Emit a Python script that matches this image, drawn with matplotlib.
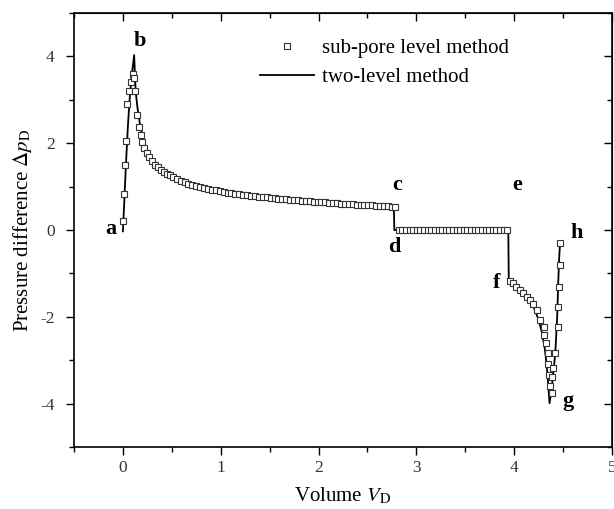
import matplotlib
matplotlib.use("Agg")
import matplotlib.pyplot as plt
from matplotlib.ticker import MultipleLocator

plt.rcParams['font.family'] = ['Liberation Serif', 'DejaVu Serif']
plt.rcParams['mathtext.fontset'] = 'stix'
plt.rcParams['axes.unicode_minus'] = False

# two-level method (solid line)
line_v = [0.0, 0.01, 0.03, 0.05, 0.07, 0.09, 0.115, 0.13, 0.15, 0.18, 0.22, 0.26, 0.30, 0.35,
          0.40, 0.50, 0.60, 0.70, 0.80, 0.90, 1.00, 1.20, 1.40, 1.60, 1.80, 2.00, 2.20, 2.40,
          2.60, 2.77, 2.775, 3.94, 3.945, 4.00, 4.05, 4.10, 4.15, 4.20, 4.25, 4.28, 4.31,
          4.33, 4.345, 4.355, 4.362, 4.38, 4.40, 4.42, 4.44, 4.45, 4.46, 4.47]
line_p = [-0.03, 0.45, 1.45, 2.35, 3.05, 3.55, 4.03, 3.20, 2.80, 2.35, 2.00, 1.78, 1.62, 1.48,
          1.38, 1.23, 1.13, 1.05, 0.99, 0.94, 0.90, 0.83, 0.77, 0.72, 0.68, 0.64, 0.61, 0.58,
          0.55, 0.53, 0.0, 0.0, -1.17, -1.22, -1.31, -1.43, -1.58, -1.78, -2.07, -2.33, -2.68,
          -3.05, -3.45, -3.78, -3.99, -3.70, -3.30, -2.85, -2.00, -1.25, -0.65, -0.27]

# sub-pore level method (open squares)
sub_v = [0.003, 0.013, 0.020, 0.031, 0.044, 0.061, 0.079, 0.099, 0.110, 0.123, 0.140, 0.167,
         0.180, 0.200, 0.220, 0.245, 0.270, 0.300, 0.330, 0.360, 0.390, 0.420, 0.450, 0.480,
         0.510, 0.550, 0.590, 0.630, 0.670, 0.710, 0.750, 0.790, 0.830, 0.870, 0.910, 0.950,
         0.990, 1.030, 1.070, 1.110, 1.150, 1.190, 1.230, 1.270, 1.310, 1.350, 1.390, 1.430,
         1.470, 1.510, 1.550, 1.590, 1.630, 1.670, 1.710, 1.750, 1.790, 1.830, 1.870, 1.910,
         1.950, 1.990, 2.030, 2.070, 2.110, 2.150, 2.190, 2.230, 2.270, 2.310, 2.350, 2.390,
         2.430, 2.470, 2.510, 2.550, 2.590, 2.630, 2.670, 2.710, 2.750, 2.780,
         2.820, 2.857, 2.894, 2.931, 2.968, 3.005, 3.042, 3.079, 3.116, 3.153, 3.190, 3.227,
         3.264, 3.301, 3.338, 3.375, 3.412, 3.449, 3.486, 3.523, 3.560, 3.597, 3.634, 3.671,
         3.708, 3.745, 3.782, 3.819, 3.856, 3.893, 3.930,
         3.956, 3.990, 4.020, 4.060, 4.090, 4.130, 4.160, 4.190, 4.230, 4.260, 4.300, 4.310,
         4.330, 4.345, 4.350, 4.360, 4.370,
         4.385, 4.390, 4.400, 4.420, 4.445, 4.452, 4.458, 4.464, 4.470]
sub_p = [0.21, 0.83, 1.50, 2.04, 2.91, 3.20, 3.41, 3.60, 3.50, 3.20, 2.64, 2.37,
         2.18, 2.02, 1.90, 1.78, 1.68, 1.58, 1.50, 1.44, 1.39, 1.34, 1.30, 1.26,
         1.22, 1.18, 1.14, 1.10, 1.07, 1.04, 1.01, 0.99, 0.97, 0.95, 0.93, 0.91,
         0.89, 0.875, 0.86, 0.85, 0.835, 0.825, 0.815, 0.80, 0.79, 0.78, 0.77, 0.76,
         0.75, 0.74, 0.735, 0.725, 0.715, 0.71, 0.70, 0.69, 0.685, 0.675, 0.67, 0.66,
         0.655, 0.645, 0.64, 0.635, 0.625, 0.62, 0.615, 0.605, 0.60, 0.595, 0.59, 0.585,
         0.58, 0.575, 0.57, 0.565, 0.56, 0.555, 0.55, 0.545, 0.54, 0.53,
         0.0, 0.0, 0.0, 0.0, 0.0, 0.0, 0.0, 0.0, 0.0, 0.0, 0.0, 0.0,
         0.0, 0.0, 0.0, 0.0, 0.0, 0.0, 0.0, 0.0, 0.0, 0.0, 0.0, 0.0,
         0.0, 0.0, 0.0, 0.0, 0.0, 0.0, 0.0,
         -1.17, -1.23, -1.31, -1.38, -1.46, -1.54, -1.61, -1.71, -1.84, -2.07, -2.24, -2.42,
         -2.61, -2.84, -3.08, -3.35, -3.60,
         -3.75, -3.38, -3.19, -2.84, -2.24, -1.77, -1.31, -0.81, -0.30]

point_labels = ['a', 'b', 'c', 'd', 'e', 'f', 'g', 'h']
label_v = [-0.12, 0.17, 2.80, 2.77, 4.03, 3.82, 4.55, 4.64]
label_p = [0.02, 4.35, 1.03, -0.39, 1.03, -1.22, -3.93, -0.08]

fig = plt.figure(figsize=(6.14, 5.09), dpi=100)
ax = fig.add_axes([0.1205, 0.1218, 0.8762, 0.8527])

ax.plot(sub_v, sub_p, linestyle='none', marker='s', markersize=4.2,
        markerfacecolor='white', markeredgecolor='#333333', markeredgewidth=0.8,
        label='sub-pore level method', zorder=3)
ax.plot(line_v, line_p, color='black', linewidth=1.3, label='two-level method', zorder=2)

for t, v, p in zip(point_labels, label_v, label_p):
    ax.text(v, p, t, fontsize=16, fontweight='bold', ha='center', va='center')

ax.set_xlim(-0.5, 5)
ax.set_ylim(-5, 5)
ax.xaxis.set_major_locator(MultipleLocator(1))
ax.xaxis.set_minor_locator(MultipleLocator(0.5))
ax.yaxis.set_major_locator(MultipleLocator(2))
ax.yaxis.set_minor_locator(MultipleLocator(1))
ax.tick_params(which='major', direction='out', length=6, width=1.0, labelsize=12.5,
               labelcolor='#333333', top=False, right=False)
ax.tick_params(axis='y', which='major', pad=8)
ax.tick_params(which='minor', direction='out', length=3.5, width=1.0, top=False, right=False)
for s in ax.spines.values():
    s.set_linewidth(1.2)

secx = ax.secondary_xaxis('top')
secx.xaxis.set_major_locator(MultipleLocator(1))
secx.xaxis.set_minor_locator(MultipleLocator(0.5))
secx.tick_params(which='major', direction='in', length=6, width=1.0, labeltop=False)
secx.tick_params(which='minor', direction='in', length=3.5, width=1.0)
secy = ax.secondary_yaxis('right')
secy.yaxis.set_major_locator(MultipleLocator(2))
secy.yaxis.set_minor_locator(MultipleLocator(1))
secy.tick_params(which='major', direction='in', length=6, width=1.0, labelright=False)
secy.tick_params(which='minor', direction='in', length=3.5, width=1.0)

ax.set_xlabel(r'Volume $\mathit{V}_\mathrm{D}$', fontsize=15, labelpad=7)
ax.set_ylabel(r'Pressure difference $\Delta \mathit{p}_\mathrm{D}$', fontsize=15, labelpad=4)

ax.legend(loc='upper left', bbox_to_anchor=(0.33, 0.96), frameon=False, fontsize=15,
          handlelength=2.6, handletextpad=0.4, labelspacing=0.45, borderaxespad=0)

fig.savefig('out.png', dpi=100)
